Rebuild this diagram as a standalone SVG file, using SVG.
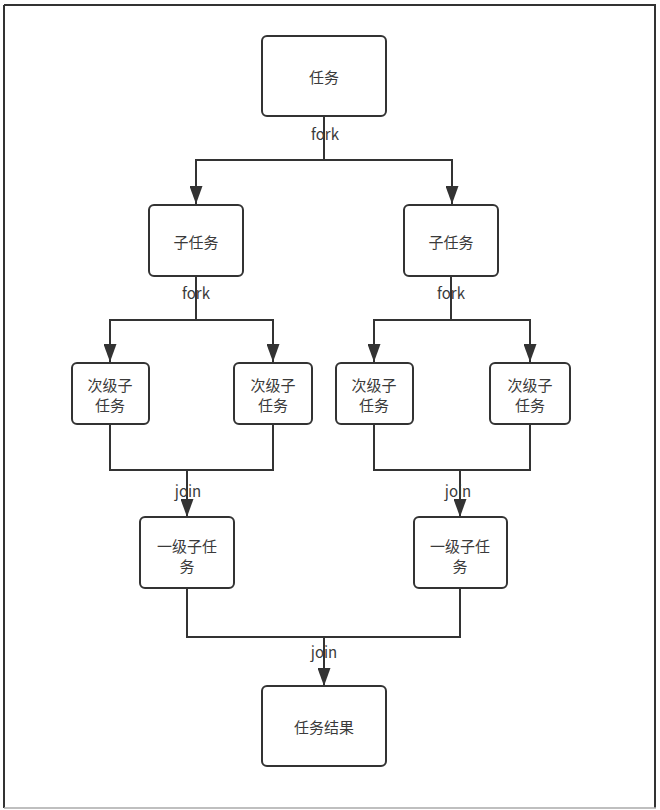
<svg xmlns="http://www.w3.org/2000/svg" width="660" height="810" viewBox="0 0 660 810">
<style>
.box{fill:#fff;stroke:#333;stroke-width:2}
.t{font-family:"Noto Sans CJK SC","Noto Sans",sans-serif;font-size:15px;fill:#3a3a3a;text-anchor:middle;dominant-baseline:central}
.e{fill:none;stroke:#333;stroke-width:2}
</style>
<defs>
<marker id="ah" viewBox="0 0 18 13" refX="18" refY="6.5" markerWidth="18" markerHeight="13" markerUnits="userSpaceOnUse" orient="auto">
<path d="M0,0 L18,6.5 L0,13 Z" fill="#333"/>
</marker>
</defs>
<rect x="0" y="0" width="660" height="810" fill="#fff"/>
<g id="frame">
<line x1="4" y1="5" x2="656" y2="5" stroke="#333" stroke-width="2"/>
<line x1="4" y1="5" x2="4" y2="808" stroke="#333" stroke-width="2"/>
<line x1="655" y1="5" x2="655" y2="808" stroke="#333" stroke-width="2"/>
<line x1="4" y1="808" x2="656" y2="808" stroke="#aaa" stroke-width="1.5"/>
</g>
<g id="connectors">
<path class="e" d="M324,116 V160 H196 V204" marker-end="url(#ah)"/>
<path class="e" d="M324,160 H452 V204" marker-end="url(#ah)"/>
<path class="e" d="M196,276 V320 H110 V362" marker-end="url(#ah)"/>
<path class="e" d="M196,320 H273 V362" marker-end="url(#ah)"/>
<path class="e" d="M451,276 V320 H374 V362" marker-end="url(#ah)"/>
<path class="e" d="M451,320 H530 V362" marker-end="url(#ah)"/>
<path class="e" d="M110,424 V470 H273 V424"/>
<path class="e" d="M187,470 V517" marker-end="url(#ah)"/>
<path class="e" d="M374,424 V470 H530 V424"/>
<path class="e" d="M460,470 V517" marker-end="url(#ah)"/>
<path class="e" d="M187,588 V637 H460 V588"/>
<path class="e" d="M324,637 V686" marker-end="url(#ah)"/>
<text class="t" x="325" y="133">fork</text>
<text class="t" x="196" y="292">fork</text>
<text class="t" x="451" y="292">fork</text>
<text class="t" x="188" y="490">join</text>
<text class="t" x="458" y="490">join</text>
<text class="t" x="324" y="651">join</text>
</g>
<g id="task">
<rect class="box" x="262" y="36" width="124" height="80" rx="5"/>
<text class="t" x="324" y="76">任务</text>
</g>
<g id="subtask-left">
<rect class="box" x="149" y="205" width="94" height="71" rx="5"/>
<text class="t" x="196" y="241">子任务</text>
</g>
<g id="subtask-right">
<rect class="box" x="404" y="205" width="94" height="71" rx="5"/>
<text class="t" x="451" y="241">子任务</text>
</g>
<g id="leaf1">
<rect class="box" x="72" y="363" width="77" height="61" rx="5"/>
<text class="t" x="110" y="384">次级子</text>
<text class="t" x="110" y="404">任务</text>
</g>
<g id="leaf2">
<rect class="box" x="234" y="363" width="78" height="61" rx="5"/>
<text class="t" x="273" y="384">次级子</text>
<text class="t" x="273" y="404">任务</text>
</g>
<g id="leaf3">
<rect class="box" x="336" y="363" width="77" height="61" rx="5"/>
<text class="t" x="374" y="384">次级子</text>
<text class="t" x="374" y="404">任务</text>
</g>
<g id="leaf4">
<rect class="box" x="490" y="363" width="80" height="61" rx="5"/>
<text class="t" x="530" y="384">次级子</text>
<text class="t" x="530" y="404">任务</text>
</g>
<g id="level1-left">
<rect class="box" x="140" y="517" width="94" height="71" rx="5"/>
<text class="t" x="187" y="545">一级子任</text>
<text class="t" x="187" y="565">务</text>
</g>
<g id="level1-right">
<rect class="box" x="414" y="517" width="93" height="71" rx="5"/>
<text class="t" x="460" y="545">一级子任</text>
<text class="t" x="460" y="565">务</text>
</g>
<g id="result">
<rect class="box" x="262" y="686" width="124" height="80" rx="5"/>
<text class="t" x="324" y="726">任务结果</text>
</g>
</svg>
